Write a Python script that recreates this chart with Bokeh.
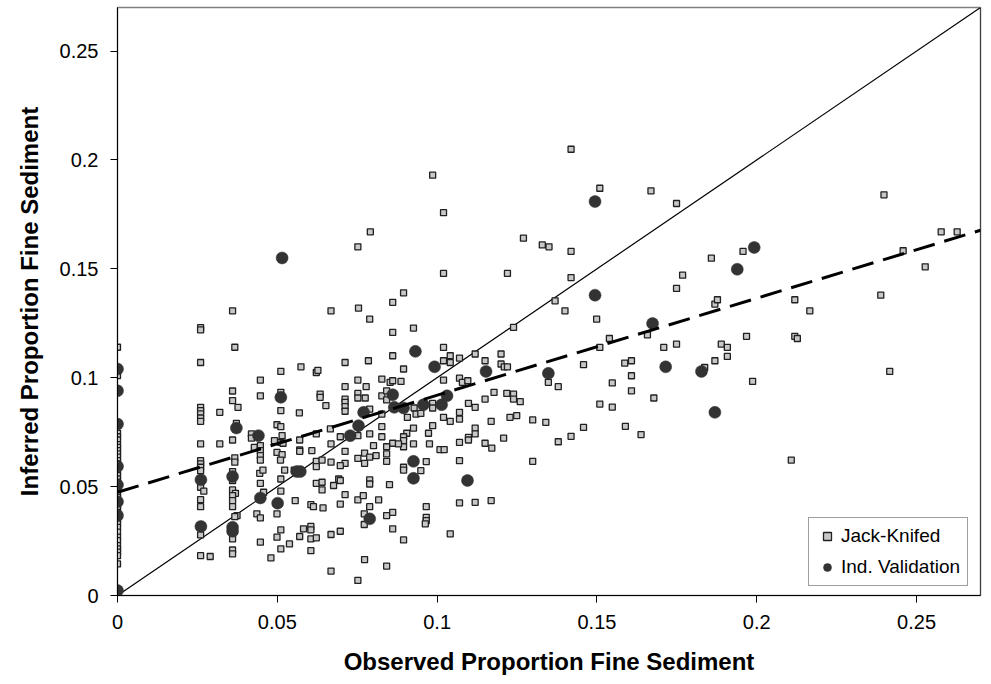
from bokeh.plotting import figure
from bokeh.models import Range1d, FixedTicker, Span, Legend, LegendItem
from bokeh.embed import file_html
from bokeh.resources import INLINE

# ---------------- data ----------------
tick_vals = [0, 0.05, 0.1, 0.15, 0.2, 0.25]
tick_labels = ["0", "0.05", "0.1", "0.15", "0.2", "0.25"]

# Jack-knifed predictions (observed, inferred)
jk_zero_y = [0.114, 0.101, 0.0745, 0.0729, 0.0714, 0.0693, 0.068, 0.0665, 0.065, 0.0635,
             0.0619, 0.0604, 0.0589, 0.0566, 0.055, 0.0535, 0.052, 0.0505, 0.0489, 0.0466,
             0.0451, 0.0436, 0.0413, 0.0398, 0.0382, 0.0367, 0.0344, 0.0329, 0.0313, 0.0291,
             0.0268, 0.0252, 0.0229, 0.0214, 0.0199, 0.0183, 0.0145]
jk_zero_x = [0.0] * len(jk_zero_y)

jk_x = [0.026, 0.026, 0.026, 0.026, 0.026, 0.026, 0.026, 0.026, 0.026, 0.026,
        0.026, 0.026, 0.026, 0.026, 0.027, 0.026, 0.026, 0.026, 0.026, 0.029,
        0.032, 0.032,
        0.036, 0.0367, 0.036, 0.036, 0.0377, 0.0372, 0.036, 0.0367, 0.0367, 0.036,
        0.036, 0.036, 0.0369, 0.036, 0.036, 0.036, 0.0374, 0.0367, 0.036, 0.036, 0.036,
        0.0668, 0.0511, 0.0574, 0.0622, 0.0627, 0.0447, 0.0447, 0.0511, 0.0634, 0.0634,
        0.0419, 0.0419, 0.0428, 0.0447, 0.0447, 0.0447, 0.0447, 0.0445, 0.0455, 0.0447,
        0.0457, 0.0436, 0.0447, 0.0447, 0.048, 0.0511, 0.0499, 0.0511, 0.0515, 0.0491,
        0.0511, 0.0518, 0.0499, 0.0515, 0.051, 0.0523, 0.0511, 0.0511, 0.0499, 0.0511,
        0.0499, 0.0511, 0.0538, 0.0569, 0.057, 0.057, 0.057, 0.0553, 0.0556, 0.057,
        0.0582, 0.0605, 0.0605, 0.0605, 0.0605, 0.0622, 0.0605, 0.0613, 0.0608, 0.0622,
        0.0622, 0.064, 0.0622, 0.064, 0.064, 0.0643, 0.0652, 0.0622, 0.0666, 0.0668,
        0.0668, 0.0676, 0.0692, 0.0668, 0.0668,
        0.0754, 0.0861, 0.0789, 0.0861, 0.0926, 0.102, 0.1041, 0.1041, 0.102, 0.107,
        0.1119, 0.115, 0.12, 0.12, 0.121, 0.122, 0.1239, 0.1369, 0.14, 0.0712,
        0.0785, 0.0861, 0.0895, 0.0827, 0.0853, 0.0861, 0.0887, 0.0752, 0.0778, 0.0712,
        0.0712, 0.0712, 0.0712, 0.0712, 0.0752, 0.0752, 0.0775, 0.0827, 0.0842, 0.0842,
        0.0789, 0.0827, 0.102, 0.107, 0.1079, 0.1096, 0.0986, 0.0986, 0.0928, 0.0934,
        0.0949, 0.0907, 0.102, 0.1041, 0.107, 0.107, 0.1098, 0.1119, 0.115, 0.1178,
        0.1218, 0.1239, 0.1239, 0.126, 0.1169, 0.1228, 0.1249, 0.1299, 0.134, 0.1348,
        0.1379, 0.1458, 0.1379, 0.1419, 0.1458, 0.1299, 0.1208, 0.1171, 0.115, 0.1119,
        0.1119, 0.1098, 0.1098, 0.107, 0.1009, 0.1022, 0.0986, 0.0973, 0.0976, 0.0926,
        0.0926, 0.0905, 0.0895, 0.0895, 0.0895, 0.0861, 0.0879, 0.0842, 0.0842, 0.0842,
        0.0827, 0.0827, 0.0789, 0.0801, 0.0752, 0.0712, 0.0712, 0.0752, 0.0773, 0.0773,
        0.0789, 0.0809, 0.0697, 0.0697, 0.0697, 0.0789, 0.0789, 0.0851, 0.0895, 0.0895,
        0.0949, 0.0966, 0.107, 0.0712, 0.0697, 0.0752, 0.0769, 0.0817, 0.0789, 0.0772,
        0.0772, 0.0842, 0.0861, 0.0966, 0.0966, 0.0966, 0.0963, 0.0861, 0.0895, 0.1041,
        0.107, 0.1119, 0.1169, 0.0697, 0.0773, 0.0842, 0.0752,
        0.1419, 0.0986, 0.102, 0.0791, 0.0752, 0.127, 0.1329, 0.135, 0.1419, 0.102,
        0.122, 0.1419, 0.0895,
        0.1509, 0.1669, 0.1749, 0.1858, 0.1957, 0.1768, 0.1749, 0.1869, 0.1877, 0.2119,
        0.2166, 0.1499, 0.1539, 0.1658, 0.1968, 0.2119, 0.2127, 0.1509, 0.1709, 0.1749,
        0.1889, 0.1908,
        0.1908, 0.1587, 0.1608, 0.1608, 0.1548, 0.1608, 0.1678, 0.1509, 0.1548, 0.1589,
        0.1638, 0.1837, 0.1869, 0.1987, 0.2108,
        0.2398, 0.2577, 0.2627, 0.2458, 0.2527, 0.2388, 0.2416]
jk_y = [0.123, 0.122, 0.107, 0.0864, 0.0849, 0.0834, 0.0815, 0.080, 0.0696, 0.0619,
        0.0604, 0.0589, 0.0573, 0.0497, 0.0479, 0.044, 0.0408, 0.0278, 0.0183, 0.0179,
        0.0841, 0.0696,
        0.1307, 0.114, 0.0939, 0.0895, 0.0864, 0.079, 0.0714, 0.0632, 0.0612, 0.0569,
        0.0528, 0.0485, 0.0469, 0.0459, 0.0436, 0.0408, 0.0367, 0.0362, 0.026, 0.0209, 0.0191,
        0.1307, 0.1029, 0.105, 0.1024, 0.1034, 0.0989, 0.0917, 0.0933, 0.0925, 0.091,
        0.0742, 0.0723, 0.068, 0.0688, 0.0665, 0.0642, 0.0622, 0.0561, 0.0576, 0.0515,
        0.0474, 0.0375, 0.0356, 0.0245, 0.0173, 0.0849, 0.0784, 0.0775, 0.0734, 0.0711,
        0.0703, 0.0699, 0.0657, 0.0647, 0.0622, 0.0576, 0.0535, 0.0479, 0.0375, 0.0301,
        0.0268, 0.0214, 0.0237, 0.0839, 0.0714, 0.0668, 0.0662, 0.0576, 0.0436, 0.0271,
        0.0306, 0.0317, 0.0301, 0.026, 0.0206, 0.0265, 0.0417, 0.0408, 0.0665, 0.0616,
        0.0592, 0.0622, 0.0515, 0.052, 0.0485, 0.0402, 0.0872, 0.0742, 0.0765, 0.0696,
        0.0612, 0.0505, 0.0535, 0.028, 0.0112,
        0.132, 0.1346, 0.1269, 0.1208, 0.1228, 0.1139, 0.1101, 0.107, 0.1078, 0.109,
        0.1109, 0.1078, 0.1109, 0.1063, 0.105, 0.105, 0.1231, 0.1353, 0.1307, 0.107,
        0.1078, 0.1101, 0.104, 0.0994, 0.0979, 0.0986, 0.0983, 0.0989, 0.0959, 0.0959,
        0.0902, 0.0887, 0.0867, 0.0846, 0.0928, 0.0907, 0.0907, 0.0917, 0.094, 0.0898,
        0.0856, 0.0833, 0.0989, 0.0998, 0.0979, 0.0986, 0.0882, 0.0861, 0.0861, 0.0833,
        0.0836, 0.0818, 0.0818, 0.08, 0.0841, 0.081, 0.0882, 0.0864, 0.0902, 0.0933,
        0.0928, 0.0925, 0.0902, 0.089, 0.08, 0.0818, 0.0826, 0.0806, 0.0795, 0.0979,
        0.0959, 0.106, 0.0706, 0.0731, 0.0772, 0.0616, 0.0723, 0.0677, 0.0699, 0.0769,
        0.0742, 0.0726, 0.0714, 0.0703, 0.067, 0.067, 0.078, 0.0745, 0.0696, 0.0769,
        0.0696, 0.0745, 0.0729, 0.0711, 0.0683, 0.0699, 0.0696, 0.0683, 0.065, 0.0616,
        0.0775, 0.0729, 0.0742, 0.0688, 0.0734, 0.0662, 0.0607, 0.063, 0.0654, 0.0607,
        0.0635, 0.0642, 0.0729, 0.0596, 0.0528, 0.0531, 0.0512, 0.0509, 0.0589, 0.0576,
        0.0573, 0.0615, 0.0619, 0.0463, 0.042, 0.0439, 0.0459, 0.0439, 0.0408, 0.0375,
        0.0326, 0.0367, 0.0382, 0.0408, 0.0359, 0.0344, 0.0329, 0.0306, 0.0255, 0.0283,
        0.0425, 0.0428, 0.0436, 0.0295, 0.0165, 0.0135, 0.0069,
        0.2049, 0.193, 0.1758, 0.167, 0.1601, 0.1641, 0.161, 0.1601, 0.158, 0.1479,
        0.1479, 0.146, 0.139,
        0.187, 0.1858, 0.18, 0.1549, 0.158, 0.1471, 0.141, 0.1338, 0.1358, 0.1358,
        0.1307, 0.1269, 0.118, 0.1197, 0.119, 0.119, 0.118, 0.1139, 0.1139, 0.1154,
        0.1154, 0.1139,
        0.1098, 0.1067, 0.1078, 0.1009, 0.0976, 0.094, 0.0907, 0.0879, 0.0865, 0.0777,
        0.0739, 0.1047, 0.1078, 0.0983, 0.0622,
        0.184, 0.167, 0.167, 0.1583, 0.1509, 0.1379, 0.1029]

# Independent validation sites
iv_x = [0, 0, 0, 0, 0, 0, 0, 0,
        0.0261, 0.0261, 0.036, 0.036, 0.036, 0.0372, 0.0441, 0.0447, 0.0501, 0.0511,
        0.0515, 0.0561, 0.0572, 0.0728, 0.0754, 0.077, 0.0789, 0.0861, 0.0866, 0.0895,
        0.0932, 0.0957, 0.0926, 0.0926, 0.0992, 0.1014, 0.1031, 0.1095, 0.1153, 0.1348,
        0.1494, 0.1494, 0.1674, 0.1715, 0.1827, 0.1869, 0.1939, 0.1992]
iv_y = [0.104, 0.094, 0.0787, 0.0593, 0.0508, 0.0431, 0.0367, 0.0023,
        0.0531, 0.0317, 0.0546, 0.0313, 0.0295, 0.0769, 0.0734, 0.0448, 0.0424, 0.091,
        0.155, 0.0569, 0.0569, 0.0734, 0.078, 0.0841, 0.0352, 0.0922, 0.0864, 0.0861,
        0.1121, 0.0876, 0.0616, 0.0538, 0.105, 0.0876, 0.0917, 0.0528, 0.1029, 0.102,
        0.1809, 0.1379, 0.1249, 0.105, 0.1029, 0.0841, 0.1498, 0.1598]

one_to_one_x = [0, 0.27]
one_to_one_y = [0, 0.27]
fit_x = [0, 0.27]
fit_y = [0.0474, 0.1677]

AX_MAX = 0.27
FONT = "Liberation Sans"

# ---------------- figure ----------------
p = figure(width=985, height=684, output_backend="svg", toolbar_location=None,
           x_range=Range1d(0, AX_MAX), y_range=Range1d(0, AX_MAX),
           min_border_left=117, min_border_right=5, min_border_top=7, min_border_bottom=89,
           background_fill_color="white", border_fill_color="white")
p.grid.visible = False
p.outline_line_color = "#808080"
p.outline_line_width = 1.5

for ax in (p.xaxis[0], p.yaxis[0]):
    ax.ticker = FixedTicker(ticks=tick_vals)
    ax.major_label_overrides = {v: s for v, s in zip(tick_vals, tick_labels)}
    ax.minor_tick_line_color = None
    ax.major_tick_in = 0
    ax.major_tick_out = 7
    ax.major_tick_line_color = "black"
    ax.axis_line_color = "black"
    ax.major_label_text_font = FONT
    ax.major_label_text_font_size = "20px"
    ax.major_label_text_color = "black"
    ax.major_label_standoff = 12
    ax.axis_label_text_font = FONT
    ax.axis_label_text_font_style = "bold"
    ax.axis_label_text_font_size = "24px"
    ax.axis_label_text_color = "black"

p.yaxis[0].axis_label = "Inferred Proportion Fine Sediment"
p.yaxis[0].axis_label_standoff = 14
p.xaxis[0].axis_label = "Observed Proportion Fine Sediment"
p.xaxis[0].axis_label_standoff = 16

p.add_layout(Span(location=AX_MAX, dimension="height", line_color="black", line_width=1))

p.line(one_to_one_x, one_to_one_y, line_color="black", line_width=1.2)

all_jk_x = jk_zero_x + jk_x
all_jk_y = jk_zero_y + jk_y
r_jk = p.scatter(all_jk_x, all_jk_y, marker="square", size=6, fill_color="#c8c8c8",
                 line_color="#202020", line_width=1.3)
r_iv = p.scatter(iv_x, iv_y, marker="circle", size=12, fill_color="#333333",
                 line_color="#333333", line_width=0.5)

p.line(fit_x, fit_y, line_color="black", line_width=3, line_dash="22 10")

legend = Legend(items=[LegendItem(label="Jack-Knifed", renderers=[r_jk]),
                       LegendItem(label="Ind. Validation", renderers=[r_iv])],
                location=(691, 9), orientation="vertical",
                border_line_color="#404040", border_line_width=1,
                background_fill_color="white", background_fill_alpha=1.0,
                label_text_font=FONT, label_text_font_size="19px",
                label_text_color="black", padding=7, spacing=9,
                glyph_width=22, glyph_height=20, label_height=20, label_standoff=3,
                margin=0)
p.add_layout(legend)

open("out.html", "w").write(file_html(p, INLINE))
